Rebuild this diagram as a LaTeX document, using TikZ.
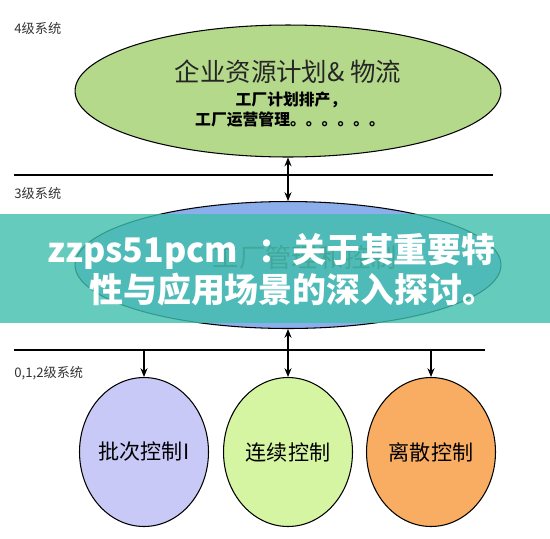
\documentclass[tikz,border=0pt]{standalone}
\usepackage{fontspec}
\setmainfont{Liberation Sans}
\newfontfamily\cjk{Noto Sans CJK SC}
\usetikzlibrary{shapes.geometric,arrows.meta}
\definecolor{erpGreen}{HTML}{B5D98B}
\definecolor{mgmtBlue}{HTML}{8CAEEA}
\definecolor{batchLilac}{HTML}{C9C9F7}
\definecolor{flowGreen}{HTML}{D6F5A3}
\definecolor{discOrange}{HTML}{F8AD62}
\definecolor{bannerTeal}{HTML}{3FBFAD}
\tikzstyle{levelOval} = [ellipse, draw=black, semithick, inner sep=0pt, minimum width=8.52cm]
\tikzstyle{controlOval} = [ellipse, draw=black, semithick, inner sep=0pt, minimum width=2.58cm, minimum height=2.98cm, font=\cjk\fontsize{12}{14}\selectfont]
\tikzstyle{levelLabel} = [anchor=west, inner sep=0pt, font=\cjk\fontsize{7.5}{9}\selectfont, text=black!80]
\tikzstyle{busLine} = [color=black, semithick]
\tikzstyle{linkArrow} = [color=black, semithick, -{Stealth[length=5pt,width=4pt]}]
\tikzstyle{linkBoth} = [color=black, semithick, {Stealth[length=5pt,width=4pt]}-{Stealth[length=5pt,width=4pt]}]
\tikzstyle{bannerText} = [text=white, inner sep=0pt, font=\cjk\bfseries\fontsize{19.3}{23}\selectfont]
\begin{document}
\begin{tikzpicture}[x=0.02cm, y=-0.02cm]
  \useasboundingbox (0,0) rectangle (550,538);

  % level labels and bus lines
  \node [levelLabel] (labelFour) at (14,28) {4级系统};
  \node [levelLabel] (labelThree) at (14,193) {3级系统};
  \node [levelLabel] (labelLow) at (14,373) {0,1,2级系统};
  \coordinate (busTopL) at (14,175);
  \coordinate (busTopR) at (493,175);
  \coordinate (busLowL) at (14,350);
  \coordinate (busLowR) at (485,350);
  \draw [busLine] (busTopL) -- (busTopR);
  \draw [busLine] (busLowL) -- (busLowR);

  % level 4
  \node [levelOval, fill=erpGreen, minimum height=2.64cm] (erp) at (288,91) {};
  \node [font=\cjk\fontsize{14.5}{16}\selectfont, text=black!85] (erpTitle) at (288,72) {企业资源计划\& 物流};
  \node [font=\cjk\bfseries\fontsize{9}{10}\selectfont] (erpLineA) at (291,100) {工厂计划排产，};
  \node [font=\cjk\bfseries\fontsize{9}{10}\selectfont, anchor=west] (erpLineB) at (189,120) {工厂运营管理。。。。。。};

  % level 3
  \node [levelOval, fill=mgmtBlue, minimum height=2.54cm] (mgmt) at (288,265) {};
  \node [font=\cjk\fontsize{15}{17}\selectfont, text=black!70] (mgmtTitle) at (305,257) {工厂管理和控制};

  % level 0,1,2
  \node [controlOval, fill=batchLilac] (batch) at (144,452) {批次控制I};
  \node [controlOval, fill=flowGreen] (flow) at (288,452) {连续控制};
  \node [controlOval, fill=discOrange] (disc) at (431,452) {离散控制};

  % connectors
  \coordinate (busBatch) at (144,350);
  \coordinate (busDisc) at (431,350);
  \draw [linkBoth] (erp.south) -- (mgmt.north);
  \draw [linkBoth] (mgmt.south) -- (flow.north);
  \draw [linkArrow] (busBatch) -- (batch.north);
  \draw [linkArrow] (busDisc) -- (disc.north);

  % banner over the picture
  \fill [bannerTeal, opacity=0.8] (0,214) rectangle (550,323);
  \node [bannerText, anchor=east] (bannerA) at (496,251) {zzps51pcm\hspace{0.6em}：关于其重要特};
  \node [bannerText, anchor=west] (bannerB) at (89,290) {性与应用场景的深入探讨。};
\end{tikzpicture}
\end{document}
